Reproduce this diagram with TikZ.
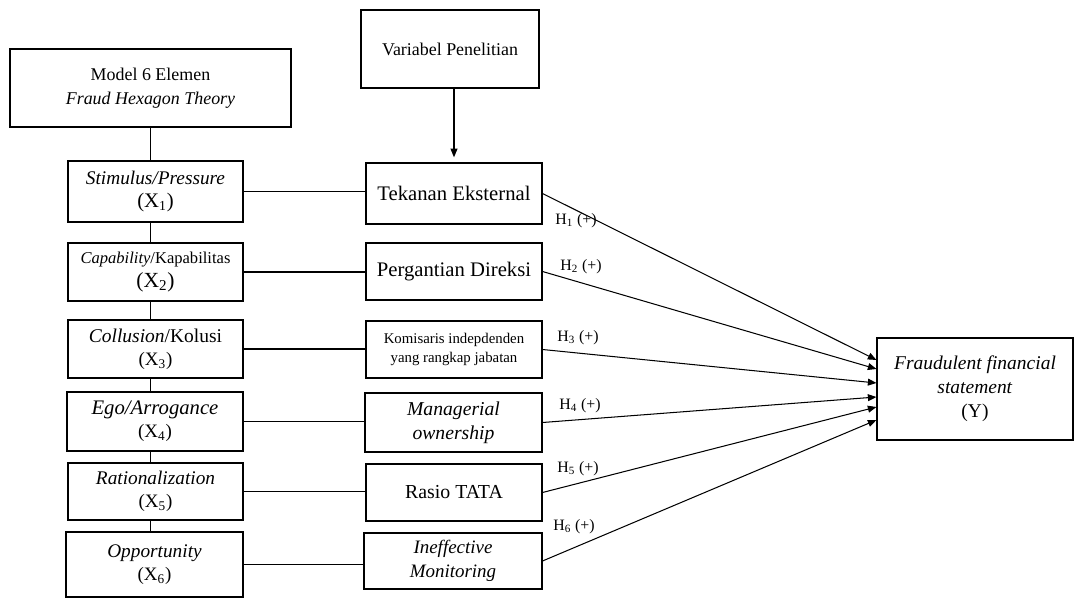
\documentclass[tikz,border=0pt]{standalone}
\usepackage{fontspec}
\setmainfont{Liberation Serif}
\usetikzlibrary{calc, arrows.meta}

\def\u{0.58pt}

\begin{document}
\begin{tikzpicture}[x=\u, y=-\u, line width=0.6pt,
		box/.style 2 args={draw, fill=white, align=center, inner sep=0pt,
			minimum width=#1*\u, minimum height=#2*\u},
		hyp/.style={font=\fontsize{9.2}{11}\selectfont},
		tip/.style={-{Triangle[length=5pt, width=4pt]}}]
	\useasboundingbox (0,0) rectangle (1091,599);

	% left column: the six elements
	\node[box={281}{78}, font=\fontsize{10.4}{14}\selectfont] (model) at (150.5,88)
		{Model 6 Elemen\\\textit{Fraud Hexagon Theory}};
	\node[box={175}{61}, font=\fontsize{11.2}{13.5}\selectfont] (s1) at (155.5,191.5)
		{\textit{Stimulus/Pressure}\\{\fontsize{12}{13.5}\selectfont(X\textsubscript{1})}};
	\node[box={175}{58}, font=\fontsize{9.6}{13.5}\selectfont] (s2) at (155.5,272)
		{\textit{Capability}/Kapabilitas\\{\fontsize{12.5}{13.5}\selectfont(X\textsubscript{2})}};
	\node[box={175}{58}, font=\fontsize{11.3}{13.5}\selectfont] (s3) at (155.5,349)
		{\textit{Collusion}/Kolusi\\{\fontsize{11}{13.5}\selectfont(X\textsubscript{3})}};
	\node[box={176}{59}, font=\fontsize{12}{13.5}\selectfont] (s4) at (155,421.5)
		{\textit{Ego/Arrogance}\\{\fontsize{11}{13.5}\selectfont(X\textsubscript{4})}};
	\node[box={175}{57}, font=\fontsize{11.2}{13.5}\selectfont] (s5) at (155.5,491.5)
		{\textit{Rationalization}\\{\fontsize{11}{13.5}\selectfont(X\textsubscript{5})}};
	\node[box={177}{65}, font=\fontsize{11.2}{13.5}\selectfont] (s6) at (154.5,564.5)
		{\textit{Opportunity}\\{\fontsize{11}{13.5}\selectfont(X\textsubscript{6})}};

	% middle column: research variables
	\node[box={178}{78}, font=\fontsize{10.4}{13}\selectfont] (var) at (450,49)
		{Variabel Penelitian};
	\node[box={176}{61}, font=\fontsize{12}{14}\selectfont] (m1) at (454,193.5)
		{Tekanan Eksternal};
	\node[box={176}{57}, font=\fontsize{12}{14}\selectfont] (m2) at (454,271.5)
		{Pergantian Direksi};
	\node[box={176}{57}, font=\fontsize{8.6}{11}\selectfont] (m3) at (454,349.5)
		{Komisaris indepdenden\\yang rangkap jabatan};
	\node[box={177}{59}, font=\fontsize{11.4}{14}\selectfont] (m4) at (453.5,422.5)
		{\textit{Managerial}\\\textit{ownership}};
	\node[box={176}{57}, font=\fontsize{11.5}{14}\selectfont] (m5) at (454,492.5)
		{Rasio TATA};
	\node[box={178}{56}, font=\fontsize{11}{14}\selectfont] (m6) at (453,561)
		{\textit{Ineffective}\\\textit{Monitoring}};

	% dependent variable
	\node[box={196}{102}, font=\fontsize{11.3}{14}\selectfont] (Y) at (975,389)
		{\textit{Fraudulent financial}\\\textit{statement}\\(Y)};

	% spine of the left column
	\draw (model.south) -- (model.south |- s1.north);
	\foreach \i/\j in {1/2,2/3,3/4,4/5,5/6}
		\draw (model.south |- s\i.south) -- (model.south |- s\j.north);

	\draw[tip, shorten >=3pt] (m1.north |- var.south) -- (m1.north);

	\foreach \i in {1,...,6}
		\draw (s\i.east) -- (s\i.east -| m\i.west);

	% hypotheses
	\foreach \i/\d in {1/-29,2/-20,3/-6,4/8,5/18,6/31}
		\draw[tip] (m\i.east) -- ($(Y.west)+(0,\d)$);

	\node[hyp] (h1) at (576,221) {H\textsubscript{1} (+)};
	\node[hyp] (h2) at (581,267) {H\textsubscript{2} (+)};
	\node[hyp] (h3) at (578,338) {H\textsubscript{3} (+)};
	\node[hyp] (h4) at (580,406) {H\textsubscript{4} (+)};
	\node[hyp] (h5) at (578,469) {H\textsubscript{5} (+)};
	\node[hyp] (h6) at (574,527) {H\textsubscript{6} (+)};
\end{tikzpicture}
\end{document}
